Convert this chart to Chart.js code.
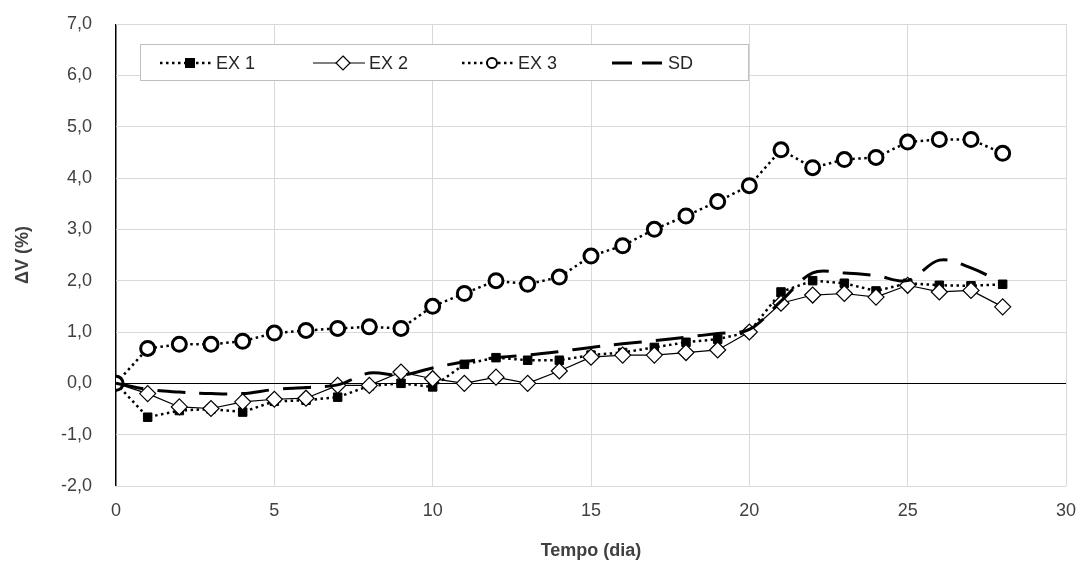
<!DOCTYPE html>
<html lang="pt">
<head>
    <meta charset="UTF-8">
    <title>ΔV (%) x Tempo (dia)</title>
    <script src="https://cdn.jsdelivr.net/npm/chart.js"></script>
    <style>
        body { margin: 0; background: #fff; }
        #wrap { width: 1081px; height: 566px; }
    </style>
</head>
<body>
    <div id="wrap"><canvas id="chart" width="1081" height="566"></canvas></div>

    <script>
        // dados
        const dias = [0, 1, 2, 3, 4, 5, 6, 7, 8, 9, 10, 11, 12, 13, 14, 15, 16, 17, 18, 19, 20, 21, 22, 23, 24, 25, 26, 27, 28];
        const ex1 = [0, -0.66, -0.53, -0.5, -0.56, -0.35, -0.33, -0.27, -0.05, 0.0, -0.07, 0.37, 0.5, 0.45, 0.45, 0.55, 0.6, 0.7, 0.8, 0.86, 1.0, 1.78, 2.0, 1.95, 1.8, 1.95, 1.91, 1.9, 1.93];
        const ex2 = [0, -0.2, -0.46, -0.49, -0.36, -0.31, -0.29, -0.04, -0.04, 0.22, 0.09, 0.0, 0.12, 0.0, 0.24, 0.51, 0.55, 0.55, 0.6, 0.65, 1.0, 1.56, 1.72, 1.75, 1.68, 1.91, 1.78, 1.81, 1.49];
        const ex3 = [0, 0.68, 0.76, 0.76, 0.82, 0.98, 1.03, 1.07, 1.1, 1.07, 1.5, 1.75, 2.0, 1.93, 2.07, 2.48, 2.68, 3.0, 3.26, 3.54, 3.85, 4.55, 4.2, 4.36, 4.4, 4.7, 4.75, 4.75, 4.48];
        const sd = [0, -0.12, -0.17, -0.2, -0.2, -0.12, -0.08, -0.03, 0.2, 0.16, 0.3, 0.42, 0.5, 0.55, 0.62, 0.7, 0.77, 0.83, 0.9, 0.97, 1.05, 1.6, 2.15, 2.15, 2.1, 2.0, 2.4, 2.25, 1.95];
        const xTicks = [0, 5, 10, 15, 20, 25, 30];
        const yMin = -2, yMax = 7;

        const fonte = "'Liberation Sans', Arial, sans-serif";

        function pontos(ys) {
            return dias.map((d, i) => ({ x: d, y: ys[i] }));
        }

        // legenda desenhada dentro da área do gráfico, com moldura
        const legendaBox = {
            id: 'legendaBox',
            afterDraw(chart) {
                const ctx = chart.ctx;
                ctx.save();
                ctx.fillStyle = '#fff';
                ctx.fillRect(140, 44, 608, 36);
                ctx.strokeStyle = '#bfbfbf';
                ctx.lineWidth = 1;
                ctx.strokeRect(140.5, 44.5, 608, 36);

                const cy = 63;
                const itens = [
                    { x: 160, txt: 'EX 1', dash: [2.5, 3.5], lw: 2.5, marc: 'quad' },
                    { x: 313, txt: 'EX 2', dash: [], lw: 1.2, marc: 'losango' },
                    { x: 462, txt: 'EX 3', dash: [2.5, 3.5], lw: 2.5, marc: 'circ' },
                    { x: 612, txt: 'SD', dash: [20, 10], lw: 3, marc: null }
                ];
                itens.forEach(it => {
                    ctx.strokeStyle = '#000';
                    ctx.lineWidth = it.lw;
                    ctx.setLineDash(it.dash);
                    ctx.beginPath();
                    ctx.moveTo(it.x, cy);
                    ctx.lineTo(it.x + 52, cy);
                    ctx.stroke();
                    ctx.setLineDash([]);
                    const mx = it.x + 30;
                    if (it.marc === 'quad') {
                        ctx.fillStyle = '#000';
                        ctx.fillRect(mx - 5, cy - 5, 10, 10);
                    } else if (it.marc === 'losango') {
                        ctx.fillStyle = '#fff';
                        ctx.lineWidth = 1.2;
                        ctx.beginPath();
                        ctx.moveTo(mx, cy - 7);
                        ctx.lineTo(mx + 7, cy);
                        ctx.lineTo(mx, cy + 7);
                        ctx.lineTo(mx - 7, cy);
                        ctx.closePath();
                        ctx.fill();
                        ctx.stroke();
                    } else if (it.marc === 'circ') {
                        ctx.fillStyle = '#fff';
                        ctx.lineWidth = 2;
                        ctx.beginPath();
                        ctx.arc(mx, cy, 5, 0, Math.PI * 2);
                        ctx.fill();
                        ctx.stroke();
                    }
                    ctx.fillStyle = '#262626';
                    ctx.font = '18px ' + fonte;
                    ctx.textBaseline = 'middle';
                    ctx.fillText(it.txt, it.x + 56, cy + 1);
                });
                ctx.restore();
            }
        };

        const ctx = document.getElementById('chart').getContext('2d');
        new Chart(ctx, {
            type: 'scatter',
            data: {
                datasets: [{
                    label: 'EX1',
                    data: pontos(ex1),
                    showLine: true,
                    borderColor: '#000',
                    borderWidth: 2.5,
                    borderDash: [2.5, 3.5],
                    pointStyle: 'rect',
                    pointRadius: 6,
                    pointBackgroundColor: '#000',
                    pointBorderColor: '#000',
                    pointBorderWidth: 1,
                    order: 3
                }, {
                    label: 'EX2',
                    data: pontos(ex2),
                    showLine: true,
                    borderColor: '#000',
                    borderWidth: 1.2,
                    pointStyle: 'rectRot',
                    pointRadius: 8,
                    pointBackgroundColor: '#fff',
                    pointBorderColor: '#000',
                    pointBorderWidth: 1.2,
                    order: 2
                }, {
                    label: 'EX3',
                    data: pontos(ex3),
                    showLine: true,
                    borderColor: '#000',
                    borderWidth: 2.5,
                    borderDash: [2.5, 3.5],
                    pointStyle: 'circle',
                    pointRadius: 7,
                    pointBackgroundColor: '#fff',
                    pointBorderColor: '#000',
                    pointBorderWidth: 3,
                    order: 1
                }, {
                    label: 'SD',
                    data: pontos(sd),
                    showLine: true,
                    borderColor: '#000',
                    borderWidth: 3,
                    borderDash: [28, 14],
                    tension: 0.35,
                    pointRadius: 0,
                    order: 0
                }]
            },
            options: {
                responsive: false,
                animation: false,
                layout: { autoPadding: false, padding: { left: 8, right: 15, top: 24, bottom: 0 } },
                scales: {
                    x: {
                        type: 'linear',
                        min: 0,
                        max: 30,
                        afterBuildTicks: s => { s.ticks = xTicks.map(v => ({ value: v })); },
                        afterFit: s => { s.height = 80; s.paddingLeft = 0; s.paddingRight = 0; },
                        grid: {
                            color: c => c.tick && c.tick.value === 0 ? '#000' : '#d9d9d9',
                            lineWidth: c => c.tick && c.tick.value === 0 ? 1.5 : 1,
                            drawTicks: false
                        },
                        border: { display: false },
                        ticks: {
                            color: '#404040',
                            font: { family: fonte, size: 18 },
                            padding: 14,
                            maxRotation: 0
                        },
                        title: {
                            display: true,
                            text: 'Tempo (dia)',
                            color: '#404040',
                            font: { family: fonte, size: 18, weight: 'bold' },
                            padding: { top: 4 }
                        }
                    },
                    y: {
                        min: yMin,
                        max: yMax,
                        afterFit: s => { s.width = 108; s.paddingTop = 0; s.paddingBottom = 0; },
                        grid: {
                            color: c => c.tick && c.tick.value === 0 ? '#000' : '#d9d9d9',
                            lineWidth: 1,
                            drawTicks: false
                        },
                        border: { display: false },
                        ticks: {
                            stepSize: 1,
                            color: '#404040',
                            font: { family: fonte, size: 18 },
                            padding: 24,
                            callback: v => v.toFixed(1).replace('.', ',')
                        },
                        title: {
                            display: true,
                            text: 'ΔV (%)',
                            color: '#404040',
                            font: { family: fonte, size: 18, weight: 'bold' },
                            padding: { bottom: 2 }
                        }
                    }
                },
                plugins: {
                    legend: { display: false },
                    tooltip: { enabled: false }
                }
            },
            plugins: [legendaBox]
        });
    </script>
</body>
</html>
